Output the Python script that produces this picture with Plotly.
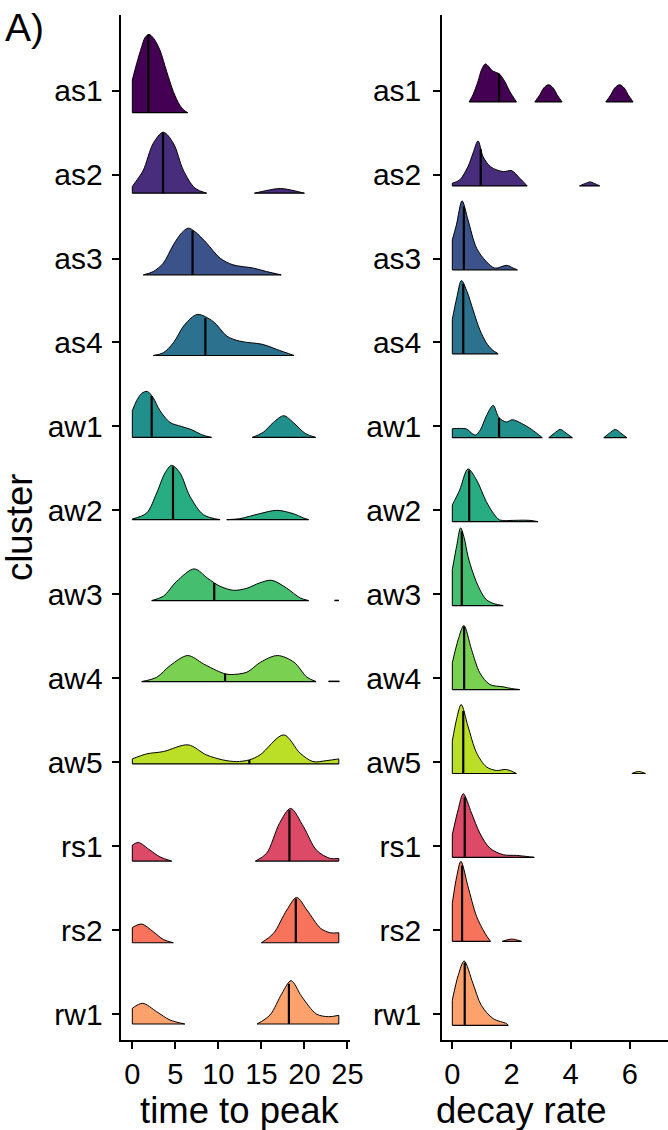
import numpy as np
import plotly.graph_objects as go

# ---------------- data ----------------
clusters = ["as1", "as2", "as3", "as4", "aw1", "aw2", "aw3", "aw4", "aw5", "rs1", "rs2", "rw1"]
colors = ["#440154", "#472D7B", "#3B528B", "#2C728E", "#21908C", "#27AD81",
          "#45BF6F", "#7AD151", "#BBDF27", "#DD4A68", "#F7735C", "#FDA16D"]

# density outlines: list of segments, each a list of (value, density height)
ttp_as1 = [[(0, 32.7), (0.5, 49), (1.09, 66), (1.47, 75), (1.94, 78.3), (2.5, 74), (3.2, 62.7),
            (4.0, 41), (4.77, 21), (5.5, 7.7), (6.0, 2.5), (6.44, 0)]]
ttp_as2 = [[(0, 6.7), (0.6, 14), (1.28, 23), (2.44, 50), (3.6, 61), (4.77, 50), (5.93, 23),
            (7.29, 5), (8.64, 0)],
           [(14.2, 0), (15.5, 2.5), (17.2, 4.7), (18.8, 2.5), (20.0, 0)]]
ttp_as3 = [[(1.28, 0), (2.44, 3.3), (3.6, 11.7), (4.77, 30), (5.74, 42), (6.5, 46.7), (7.3, 43),
            (8.64, 31.7), (10.2, 16.7), (11.7, 10), (14.1, 6.7), (15.6, 3.3), (17.3, 0)]]
ttp_as4 = [[(2.44, 0), (3.6, 2.7), (4.77, 12.7), (6.1, 31), (7.56, 41), (9.4, 34), (11.0, 19.3),
            (12.5, 14.3), (15.2, 11), (16.8, 6), (18.8, 0)]]
ttp_aw1 = [[(0, 26.7), (0.5, 36.7), (1.09, 44), (1.74, 46), (2.4, 40), (3.2, 27), (4.38, 15),
            (5.7, 11), (6.9, 7.7), (8.06, 2.7), (9.2, 0)],
           [(13.95, 0), (15.2, 5), (16.4, 15), (17.6, 21.7), (18.7, 15), (20.1, 4), (21.3, 0)]]
ttp_aw2 = [[(0, 0.7), (1.67, 6.7), (2.83, 26.7), (3.8, 46.7), (4.57, 54.3), (5.54, 46.7),
            (6.7, 23.3), (8.26, 5), (10.2, 0)],
           [(10.97, 0), (12.5, 1), (14.8, 6), (16.8, 9.3), (18.7, 6), (19.9, 1.7), (20.5, 0)]]
ttp_aw3 = [[(2.25, 0), (3.6, 4.3), (5.16, 19.3), (7.2, 31.7), (8.7, 22.7), (9.52, 17.7),
            (10.2, 14.3), (11.75, 10.3), (13.3, 12.3), (14.8, 17.7), (16.2, 20.3), (17.9, 12.7),
            (19.5, 2.7), (20.5, 0)],
           [(23.5, 0.4), (24.0, 0.4)]]
ttp_aw4 = [[(1.09, 0), (2.84, 4.3), (4.4, 16), (6.44, 26), (8.26, 17.7), (9.8, 11), (10.78, 7.7),
            (11.5, 7), (13.3, 9.3), (14.9, 19.3), (16.86, 26), (18.8, 19.3), (20.3, 4.3),
            (21.36, 0)],
           [(22.8, 0.4), (24.07, 0.4)]]
ttp_aw5 = [[(0, 5), (1.67, 10), (3.6, 12.3), (6.5, 19), (8.6, 9), (10.5, 4), (12.1, 2.3),
            (13.6, 4), (14.85, 9), (17.6, 29), (19.5, 10.7), (21.0, 2.3), (22.6, 3.3), (24.0, 5)]]
ttp_rs1 = [[(0, 16), (0.7, 18.7), (2.05, 11), (3.2, 4.3), (4.57, 0)],
           [(14.3, 0), (15.6, 7.7), (17.1, 37.7), (18.4, 52.7), (19.9, 34.3), (21.4, 11),
            (23.0, 2.7), (24.0, 2.7)]]
ttp_rs2 = [[(0, 15.3), (1.09, 18.7), (2.44, 11), (3.6, 3.3), (4.77, 0)],
           [(15.0, 0), (16.4, 9.3), (17.95, 32.7), (19.1, 45.3), (20.3, 32.7), (21.9, 14.3),
            (23.0, 10), (24.0, 10)]]
ttp_rw1 = [[(0, 15.7), (1.2, 20.7), (2.83, 12.3), (4.38, 4), (6.1, 0)],
           [(14.5, 0), (16.0, 9), (17.4, 30.7), (18.45, 43.3), (19.7, 27.3), (21.4, 10),
            (22.8, 7.3), (24.0, 8.7)]]

dr_as1 = [[(0.57, 0), (0.7, 7.3), (0.87, 20.7), (0.99, 32.3), (1.12, 38), (1.38, 30.7),
           (1.58, 28.3), (1.77, 20.7), (1.94, 10.7), (2.17, 0)],
          [(2.79, 0), (2.96, 7.3), (3.09, 14), (3.25, 17.3), (3.41, 14), (3.54, 7.3), (3.71, 0)],
          [(5.19, 0), (5.36, 7.3), (5.49, 14), (5.65, 17.3), (5.81, 14), (5.94, 7.3), (6.11, 0)]]
dr_as2 = [[(0, 2.7), (0.25, 6), (0.53, 19.3), (0.7, 32.7), (0.87, 45), (1.04, 29.3), (1.3, 19),
           (1.72, 14.3), (2.0, 15.3), (2.28, 7.7), (2.53, 0)],
          [(4.3, 0), (4.5, 2.5), (4.65, 4), (4.8, 2.5), (4.98, 0)]]
dr_as3 = [[(0, 30), (0.14, 45), (0.33, 69), (0.53, 50), (0.82, 21.7), (1.15, 8.3), (1.44, 1.7),
           (1.84, 4.5), (2.06, 1.7), (2.2, 0)]]
dr_as4 = [[(0, 34.3), (0.15, 56), (0.31, 73.3), (0.5, 62), (0.7, 44), (0.93, 24), (1.15, 11),
           (1.35, 4), (1.55, 0)]]
dr_aw1 = [[(0, 9), (0.25, 9.3), (0.48, 8.7), (0.68, 4), (0.79, 2.7), (0.95, 8), (1.15, 21.7),
           (1.38, 32.3), (1.58, 20), (1.83, 15.7), (2.03, 18), (2.34, 14.3), (2.68, 8.3), (3.04, 0)],
          [(3.26, 0), (3.45, 4.5), (3.65, 8.3), (3.85, 4.5), (4.06, 0)],
          [(5.12, 0), (5.31, 4.5), (5.51, 8.3), (5.7, 4.5), (5.9, 0)]]
dr_aw2 = [[(0, 16.7), (0.25, 31.7), (0.53, 52.7), (0.82, 41.7), (1.15, 20), (1.4, 8), (1.6, 1.7),
           (2.06, 1.3), (2.4, 1.5), (2.62, 1.3), (2.9, 0)]]
dr_aw3 = [[(0, 36), (0.15, 60), (0.28, 77.7), (0.4, 68), (0.53, 49.3), (0.7, 32.7), (0.93, 16),
           (1.15, 6), (1.4, 2), (1.72, 0)]]
dr_aw4 = [[(0, 26.7), (0.2, 50), (0.39, 64), (0.65, 40), (0.93, 16.7), (1.27, 5), (1.72, 2.7),
           (2.0, 1), (2.28, 0)]]
dr_aw5 = [[(0, 32.3), (0.15, 55), (0.3, 69), (0.53, 47.3), (0.82, 20.7), (1.15, 6.7), (1.49, 3),
           (1.83, 4), (2.17, 0)],
          [(6.07, 0), (6.3, 2), (6.53, 0)]]
dr_rs1 = [[(0, 22.7), (0.2, 48), (0.37, 63.7), (0.65, 44.3), (0.93, 24.3), (1.27, 9.3),
           (1.72, 2.7), (2.17, 2), (2.5, 1), (2.77, 0)]]
dr_rs2 = [[(0, 38), (0.15, 65), (0.29, 80), (0.53, 55), (0.82, 25), (1.1, 8.3), (1.29, 0)],
          [(1.69, 0), (2.0, 2.3), (2.34, 0)]]
dr_rw1 = [[(0, 25), (0.2, 50), (0.4, 64.3), (0.7, 41.7), (0.98, 20), (1.38, 6.7), (1.83, 1.7),
           (1.89, 0)]]

ttp_medians = [1.86, 3.57, 7.0, 8.49, 2.25, 4.73, 9.52, 10.78, 13.6, 18.26, 19.0, 18.2]
dr_medians = [1.58, 0.96, 0.39, 0.37, 1.58, 0.57, 0.32, 0.40, 0.37, 0.42, 0.33, 0.42]

ttp_data = [ttp_as1, ttp_as2, ttp_as3, ttp_as4, ttp_aw1, ttp_aw2, ttp_aw3, ttp_aw4, ttp_aw5,
            ttp_rs1, ttp_rs2, ttp_rw1]
dr_data = [dr_as1, dr_as2, dr_as3, dr_as4, dr_aw1, dr_aw2, dr_aw3, dr_aw4, dr_aw5,
           dr_rs1, dr_rs2, dr_rw1]

x_ticks_ttp = [0, 5, 10, 15, 20, 25]
x_ticks_dr = [0, 2, 4, 6]

# ---------------- layout constants ----------------
W, H = 668, 1130
ROW = 83.94            # pixels between category rows (density unit scale)
ttp_shift = [22, 18.6, 16.3, 13, 11, 9.3, 6.3, 3.3, 1.7, 15, 12.7, 10]   # baseline offsets (px)
dr_shift = [11.3] * 12
FONT = "Liberation Sans, Arial, Helvetica, sans-serif"

fig = go.Figure()


def add_panel(data, medians, shifts, xa, ya):
    n = len(clusters)
    for i in range(n):
        base = (n - 1 - i) - shifts[i] / ROW
        col = colors[i]
        for seg in data[i]:
            xs = [p[0] for p in seg]
            ys = [base + p[1] / ROW for p in seg]
            fig.add_trace(go.Scatter(x=[xs[0], xs[-1]], y=[base, base], mode="lines",
                                     line=dict(color="black", width=1.2),
                                     xaxis=xa, yaxis=ya, hoverinfo="skip", showlegend=False))
            fig.add_trace(go.Scatter(x=xs, y=ys, mode="lines", fill="tonexty", fillcolor=col,
                                     line=dict(color="black", width=1, shape="spline", smoothing=0.9),
                                     xaxis=xa, yaxis=ya, hoverinfo="skip", showlegend=False))
            ex, ey = [], []
            if seg[0][1] > 0.5:
                ex += [xs[0], xs[0], None]
                ey += [base, ys[0], None]
            if seg[-1][1] > 0.5:
                ex += [xs[-1], xs[-1], None]
                ey += [base, ys[-1], None]
            if ex:
                fig.add_trace(go.Scatter(x=ex, y=ey, mode="lines",
                                         line=dict(color="black", width=1),
                                         xaxis=xa, yaxis=ya, hoverinfo="skip", showlegend=False))
        m = medians[i]
        for seg in data[i]:
            xs = [p[0] for p in seg]
            if xs[0] <= m <= xs[-1]:
                hm = float(np.interp(m, xs, [p[1] for p in seg]))
                fig.add_trace(go.Scatter(x=[m, m], y=[base, base + hm / ROW], mode="lines",
                                         line=dict(color="black", width=2.2),
                                         xaxis=xa, yaxis=ya, hoverinfo="skip", showlegend=False))
                break


add_panel(ttp_data, ttp_medians, ttp_shift, "x", "y")
add_panel(dr_data, dr_medians, dr_shift, "x2", "y2")

y_top_px, y_bot_px = 15, 1040
yr = [(1014 - y_bot_px) / ROW, (1014 - y_top_px) / ROW]
ydom = [1 - y_bot_px / H, 1 - y_top_px / H]

axis_common = dict(showline=True, linecolor="black", linewidth=2, ticks="outside", ticklen=7,
                   tickwidth=2, tickcolor="black", showgrid=False, zeroline=False,
                   automargin=False)
xfont = dict(family=FONT, size=29, color="black")
yfont = dict(family=FONT, size=30, color="black")

yticks = list(range(len(clusters) - 1, -1, -1))

fig.update_layout(
    template="none",
    width=W, height=H, autosize=False, margin=dict(l=0, r=0, t=0, b=0, pad=0),
    paper_bgcolor="white", plot_bgcolor="white", showlegend=False,
    xaxis=dict(domain=[120.7 / W, 350 / W], range=[-1.35, 25.3], tickvals=x_ticks_ttp,
               anchor="y", tickfont=xfont, **axis_common),
    xaxis2=dict(domain=[442.3 / W, 1.0], range=[-0.338, 7.29], tickvals=x_ticks_dr,
                anchor="y2", tickfont=xfont, **axis_common),
    yaxis=dict(domain=ydom, range=yr, tickvals=yticks, ticktext=clusters, anchor="x",
               ticklabelstandoff=3, tickfont=yfont, **axis_common),
    yaxis2=dict(domain=ydom, range=yr, tickvals=yticks, ticktext=clusters, anchor="x2",
                ticklabelstandoff=6, tickfont=yfont, **axis_common),
)

ann_font = dict(family=FONT, size=36.5, color="black")
fig.add_annotation(text="time to peak", x=240 / W, y=1 - 1110 / H, xref="paper", yref="paper",
                   showarrow=False, xanchor="center", yanchor="middle", font=ann_font)
fig.add_annotation(text="decay rate", x=520.5 / W, y=1 - 1110 / H, xref="paper", yref="paper",
                   showarrow=False, xanchor="center", yanchor="middle", font=ann_font)
fig.add_annotation(text="cluster", x=19.5 / W, y=1 - 527.5 / H, xref="paper", yref="paper",
                   showarrow=False, xanchor="center", yanchor="middle", textangle=-90,
                   font=ann_font)
fig.add_annotation(text="A)", x=3 / W, y=1 - 28 / H, xref="paper", yref="paper",
                   showarrow=False, xanchor="left", yanchor="middle",
                   font=dict(family=FONT, size=39, color="black"))

fig.write_html("out.html", config={"responsive": False})
